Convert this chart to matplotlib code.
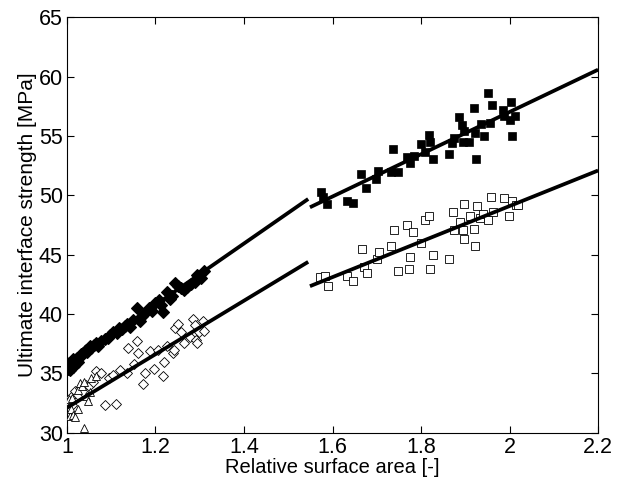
import matplotlib
matplotlib.use("Agg")
import matplotlib.pyplot as plt

plt.rcParams['font.family'] = ['Liberation Sans', 'DejaVu Sans']

# filled diamonds
fd_x = [1.002, 1.004, 1.006, 1.008, 1.010, 1.011, 1.013, 1.015, 1.017, 1.020, 1.022, 1.025, 1.029, 1.032,
        1.036, 1.040, 1.042, 1.046, 1.051, 1.055, 1.060, 1.065, 1.070, 1.078, 1.085, 1.092, 1.098, 1.105,
        1.112, 1.118, 1.125, 1.130, 1.136, 1.143, 1.150, 1.159, 1.165, 1.170, 1.177, 1.186, 1.192, 1.199,
        1.208, 1.212, 1.217, 1.226, 1.232, 1.237, 1.244, 1.250, 1.258, 1.265, 1.271, 1.280, 1.289, 1.293,
        1.302, 1.309]
fd_y = [35.4, 35.9, 35.3, 35.7, 36.0, 35.5, 36.2, 35.6, 35.9, 36.1, 36.3, 36.0, 36.4, 36.6,
        36.7, 36.9, 37.0, 36.8, 37.3, 37.1, 37.4, 37.6, 37.3, 37.7, 37.9, 38.0, 38.2, 38.5,
        38.4, 38.8, 38.7, 39.0, 39.2, 38.9, 39.5, 40.5, 39.4, 39.8, 40.1, 40.5, 40.3, 40.9,
        41.2, 40.8, 40.2, 41.9, 41.3, 41.5, 42.6, 42.4, 42.2, 42.0, 42.3, 42.5, 42.7, 43.3,
        43.0, 43.6]

# open diamonds
od_x = [1.003, 1.008, 1.012, 1.018, 1.024, 1.030, 1.036, 1.044, 1.050, 1.058, 1.065, 1.078, 1.087, 1.096,
        1.103, 1.111, 1.120, 1.135, 1.138, 1.152, 1.159, 1.161, 1.171, 1.177, 1.187, 1.197, 1.206, 1.217,
        1.220, 1.226, 1.240, 1.241, 1.244, 1.250, 1.258, 1.264, 1.278, 1.285, 1.289, 1.292, 1.294, 1.298,
        1.307, 1.309]
od_y = [32.6, 33.0, 32.3, 33.5, 33.2, 33.8, 33.4, 34.0, 33.9, 34.3, 35.2, 35.0, 32.3, 34.6,
        34.9, 32.4, 35.3, 35.0, 37.1, 35.8, 37.7, 36.7, 34.1, 35.0, 36.9, 35.4, 37.0, 34.8,
        36.0, 37.3, 36.7, 37.0, 38.8, 39.2, 38.5, 37.6, 38.1, 39.6, 39.1, 37.8, 37.6, 38.5,
        39.4, 38.6]

# open triangles
ot_x = [1.004, 1.006, 1.009, 1.011, 1.013, 1.018, 1.024, 1.024, 1.029, 1.033, 1.038, 1.039, 1.042, 1.047,
        1.051, 1.054, 1.065]
ot_y = [32.8, 31.4, 32.0, 32.9, 31.5, 31.3, 32.0, 33.6, 34.2, 33.9, 34.3, 30.4, 33.1, 32.7,
        33.4, 34.6, 34.8]

# filled squares
fs_x = [1.573, 1.578, 1.587, 1.632, 1.646, 1.665, 1.675, 1.698, 1.702, 1.732, 1.736, 1.747, 1.769, 1.774,
        1.783, 1.799, 1.810, 1.819, 1.820, 1.826, 1.863, 1.871, 1.874, 1.886, 1.893, 1.895, 1.897, 1.908,
        1.919, 1.922, 1.924, 1.935, 1.942, 1.951, 1.955, 1.960, 1.985, 1.987, 2.000, 2.003, 2.005, 2.012]
fs_y = [50.3, 49.9, 49.3, 49.5, 49.4, 51.8, 50.6, 51.4, 52.1, 52.0, 53.9, 52.0, 53.2, 52.7,
        53.3, 54.3, 53.7, 55.1, 54.5, 53.1, 53.5, 54.4, 54.8, 56.6, 55.9, 54.5, 55.4, 54.5,
        57.4, 55.3, 53.1, 56.0, 55.0, 58.6, 56.1, 57.6, 57.2, 56.7, 56.4, 57.9, 55.0, 56.7]

# open squares
os_x = [1.571, 1.583, 1.590, 1.632, 1.646, 1.666, 1.671, 1.677, 1.700, 1.704, 1.733, 1.738, 1.749, 1.768,
        1.772, 1.776, 1.781, 1.801, 1.808, 1.819, 1.821, 1.826, 1.863, 1.872, 1.875, 1.887, 1.895, 1.896,
        1.896, 1.911, 1.919, 1.922, 1.926, 1.933, 1.941, 1.951, 1.958, 1.962, 1.987, 1.998, 2.005, 2.014,
        2.020]
os_y = [43.1, 43.2, 42.4, 43.2, 42.8, 45.5, 44.0, 43.5, 44.6, 45.2, 45.7, 47.1, 43.6, 47.5,
        43.8, 44.8, 46.9, 46.0, 47.9, 48.3, 43.8, 45.0, 44.6, 48.6, 47.1, 47.8, 47.1, 49.3,
        46.3, 48.3, 47.2, 45.7, 49.1, 48.1, 48.4, 47.9, 49.9, 48.6, 49.8, 48.3, 49.5, 49.2,
        49.2]

# fitted lines (end points)
fit1_x = [1.0, 1.545]
fit1_y = [35.6, 49.7]
fit2_x = [1.0, 1.545]
fit2_y = [32.1, 44.4]
fit3_x = [1.549, 2.2]
fit3_y = [49.0, 60.6]
fit4_x = [1.549, 2.2]
fit4_y = [42.35, 52.1]

xticks = [1, 1.2, 1.4, 1.6, 1.8, 2, 2.2]
xticklabels = ['1', '1.2', '1.4', '1.6', '1.8', '2', '2.2']
yticks = [30, 35, 40, 45, 50, 55, 60, 65]

fig = plt.figure(figsize=(6.23, 4.86), dpi=100)
ax = fig.add_axes([0.1075, 0.1097, 0.8525, 0.8543])

ax.plot(fd_x, fd_y, 'D', color='black', ms=6.2, mew=0.8, zorder=3)
ax.plot(od_x, od_y, 'D', mfc='white', mec='black', ms=5.3, mew=0.6, zorder=3)
ax.plot(ot_x, ot_y, '^', mfc='white', mec='black', ms=6, mew=0.6, zorder=3)
ax.plot(fs_x, fs_y, 's', color='black', ms=5.6, mew=0.5, zorder=3)
ax.plot(os_x, os_y, 's', mfc='white', mec='black', ms=5.3, mew=0.6, zorder=3)

for fx, fy in [(fit1_x, fit1_y), (fit2_x, fit2_y), (fit3_x, fit3_y), (fit4_x, fit4_y)]:
    ax.plot(fx, fy, '-', color='black', lw=2.7, solid_capstyle='butt', zorder=4)

ax.set_xlim(1, 2.2)
ax.set_ylim(30, 65)
ax.set_xticks(xticks)
ax.set_xticklabels(xticklabels)
ax.set_yticks(yticks)
ax.tick_params(direction='in', top=True, right=True, labelsize=15.5, length=5, width=0.8, pad=3)
for s in ax.spines.values():
    s.set_linewidth(0.8)
ax.set_xlabel('Relative surface area [-]', fontsize=14.5, labelpad=0)
ax.set_ylabel('Ultimate interface strength [MPa]', fontsize=15, labelpad=1)

fig.savefig('out.png', dpi=100)
